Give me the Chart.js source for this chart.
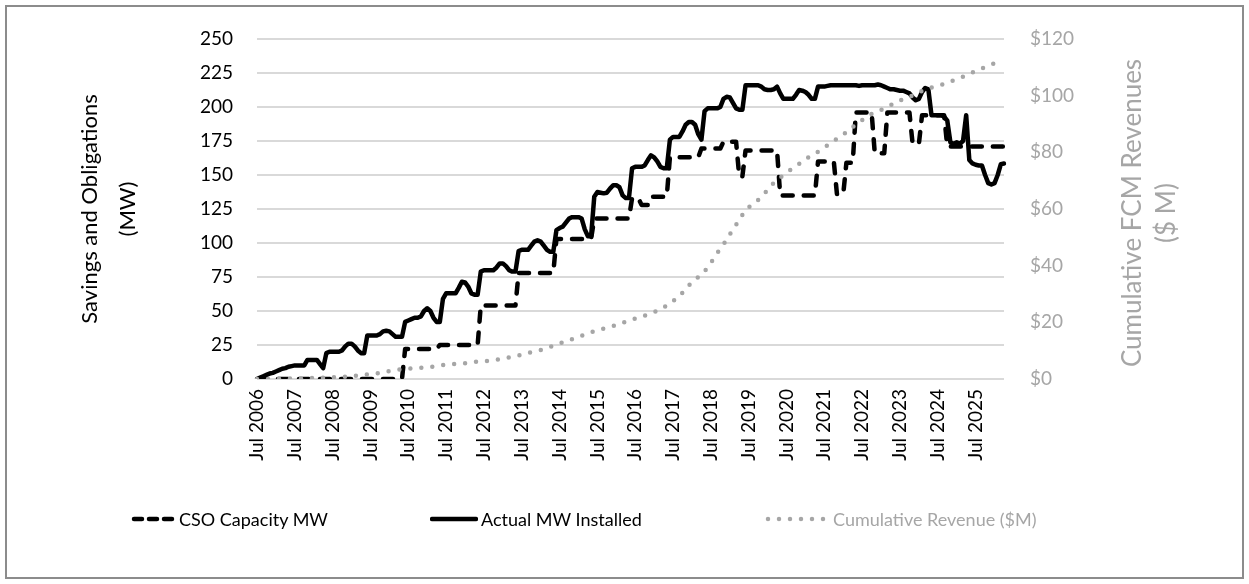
<!DOCTYPE html>
<html><head><meta charset="utf-8">
<script src="https://cdn.jsdelivr.net/npm/chart.js@4.4.1/dist/chart.umd.min.js"></script>
<style>
html,body{margin:0;padding:0;background:#fff;}
#wrap{position:relative;width:1249px;height:584px;overflow:hidden;font-family:Lato,'Open Sans',sans-serif;}
#frame{position:absolute;left:5px;top:5px;width:1235px;height:570px;border:2px solid #8c8c8c;pointer-events:none;}
canvas{position:absolute;left:0;top:0;}
.leg{position:absolute;top:507px;height:24px;display:flex;align-items:center;font-size:18px;white-space:nowrap;}
.leg svg{margin-right:3px;}
</style></head><body>
<div id="wrap">
<canvas id="c" width="1249" height="584"></canvas>
<div class="leg" style="left:130px;color:#000"><svg width="46" height="10"><line x1="4" y1="5" x2="42" y2="5" stroke="#000" stroke-width="4.5" stroke-dasharray="8 7" stroke-linecap="round"/></svg><span>CSO Capacity MW</span></div>
<div class="leg" style="left:430px;color:#000"><svg width="48" height="10"><line x1="2" y1="5" x2="46" y2="5" stroke="#000" stroke-width="4.5" stroke-linecap="round"/></svg><span>Actual MW Installed</span></div>
<div class="leg" style="left:764px;color:#a6a6a6"><svg width="66" height="10"><line x1="4" y1="5" x2="62" y2="5" stroke="#a6a6a6" stroke-width="4.5" stroke-dasharray="0 11" stroke-linecap="round"/></svg><span>Cumulative Revenue ($M)</span></div>
<div id="frame"></div>
</div>
<script>
// ---- data ----
const startYear = 2006, startMonth = 6; // Jul 2006 (0-based month)
const monthNames = ['Jan','Feb','Mar','Apr','May','Jun','Jul','Aug','Sep','Oct','Nov','Dec'];
const categories = [];
for (let i = 0; i < 238; i++) {
  const m = (startMonth + i) % 12, y = startYear + Math.floor((startMonth + i) / 12);
  categories.push(monthNames[m] + ' ' + y);
}
const tickLabels = ['Jul 2006','Jul 2007','Jul 2008','Jul 2009','Jul 2010','Jul 2011','Jul 2012','Jul 2013','Jul 2014','Jul 2015','Jul 2016','Jul 2017','Jul 2018','Jul 2019','Jul 2020','Jul 2021','Jul 2022','Jul 2023','Jul 2024','Jul 2025'];

const csoCapacityMW = [
  0,0,0,0,0,0,0,0,0,0,0,0,
  0,0,0,0,0,0,0,0,0,0,0,0,
  0,0,0,0,0,0,0,0,0,0,0,0,
  0,0,0,0,0,0,0,0,0,0,0,22,
  22,22,22,22,22,22,22,22,22,22,25,25,
  25,25,25,25,25,25,25,25,25,25,25,54,
  54,54,54,54,54,54,54,54,54,54,54,78,
  78,78,78,78,78,78,78,78,78,78,78,103,
  103,103,103,103,103,103,103,103,103,103,103,118,
  118,118,118,118,118,118,118,118,118,118,118,133,
  133,133,128,128,128,134,134,134,134,134,134,163,
  163,163,163,163,163,163,163,163,163,169.5,169.5,169.5,
  169.5,169.5,169.5,169.5,174.5,174.5,174.5,174.5,174.5,149,149,168,
  168,168,168,168,168,168,168,168,168,168,135,135,
  135,135,135,135,135,135,135,135,135,135,160,160,
  160,160,160,160,136,136,136,159,159,159,196,196,
  196,196,196,196,166,166,166,166,196,196,196,196,
  196,196,196,196,173,173,173,194,194,194,194,194,
  194,194,194,171,171,171,171,171,171,171,171,171,
  171,171,171,171,171,171,171,171,171,171
];
const actualMWInstalled = [
  0,1,2,3,4,4.5,5.5,6.5,7.5,8,9,9.5,
  10,10,10,10,14,14,14,14,11,8,19,20,
  20,20,20,21,24,26,26,24,21,19,19,32,
  32,32,32,33,35,35.5,35,33,31,31,31,42,
  43,44,45,45,46,50,52,50,45,42,42,59,
  63,63,63,63,67,71.5,71,68,63,62,62,79,
  80,80,80,80,82,85,85,83,80,79,79,94,
  95,95,95,98,101,102,101,98,95,93.5,93.5,109.5,
  111,112,115,118,119,119,119,118,110,105,105,134,
  137.5,137,136.5,137,140,142.5,142.5,141,135,133,133,155,
  156,156,156,157,161,164.5,163,160,156,155,155,176,
  178,178,178,182,187,189,189,187,180,176,197,199,
  199,199,199,200,206,207.5,207,203,199,198,198,216,
  216,216,216,216,215,213,212.5,212.5,213,215,210,206,
  206,206,206,209,212.5,212,211,209,206,206,215,215,
  215,215.5,216,216,216,216,216,216,216,216,216,215.5,
  216,216,216,216,216,216.5,216,215,214,213,213,212.5,
  212,212,211,210,207,205,206,211,214,213,194,194,
  194,194,193,190,174,173,174,173,175,194,161,158.5,
  157.5,157,157,150,144,143,144,150,158,158.5
];
const cumulativeRevenueM = [
  0,0,0,0,0.05,0.05,0.1,0.1,0.1,0.15,0.15,0.2,
  0.2,0.2,0.2,0.25,0.3,0.3,0.35,0.4,0.4,0.45,0.5,0.55,
  0.6,0.65,0.7,0.75,0.8,0.9,1.0,1.1,1.2,1.4,1.5,1.6,
  1.8,1.9,2.0,2.2,2.4,2.6,2.8,3.0,3.2,3.3,3.4,3.5,
  3.6,3.7,3.8,3.9,4.0,4.1,4.2,4.3,4.4,4.6,4.8,4.9,
  5.0,5.1,5.2,5.3,5.4,5.5,5.6,5.7,5.9,6.0,6.1,6.2,
  6.3,6.4,6.5,6.6,6.8,7.0,7.2,7.4,7.6,7.8,8.0,8.3,
  8.6,8.9,9.2,9.5,9.8,10.0,10.2,10.5,10.9,11.3,11.7,12.1,
  12.5,12.9,13.3,13.7,14.1,14.5,14.9,15.3,15.7,16.1,16.5,16.9,
  17.2,17.5,17.8,18.1,18.4,18.7,19.0,19.4,19.8,20.2,20.6,21.0,
  21.3,21.6,22.0,22.4,22.8,23.2,23.6,24.1,24.6,25.2,26.0,26.8,
  27.6,28.3,29.0,30.5,32.0,33.0,34.0,35.0,36.0,37.0,38.0,39.5,
  41.0,42.7,44.4,46.0,47.5,49.2,51.0,52.7,54.4,56.2,57.9,59.3,
  60.6,61.5,62.4,63.2,64.4,65.5,66.7,68.0,69.3,70.2,71.1,72.0,
  72.8,73.6,74.3,75.1,75.9,76.7,77.5,78.3,79.0,79.6,80.2,80.8,
  81.6,82.5,83.3,84.0,84.8,85.5,86.3,87.1,87.9,88.9,90.0,90.7,
  91.4,92.0,92.8,93.6,94.0,94.4,95.0,95.5,96.0,96.6,97.3,97.9,
  98.3,98.8,99.2,99.6,100.1,100.7,101.2,101.7,102.1,102.6,102.9,103.2,
  103.5,103.8,104.2,104.6,105.0,105.4,105.8,106.3,106.7,107.2,107.7,108.2,
  108.7,109.1,109.6,110.1,110.5,111.0,111.4,111.8,null,null
];
const leftAxisTitle = ['Savings and Obligations', '(MW)'];
const rightAxisTitle = ['Cumulative FCM Revenues', '($ M)'];

// ---- layout constants ----
const PLOT_L = 257, PLOT_R = 1004, PLOT_T = 39, PLOT_B = 379;
const PAD_L = 71, PAD_R = 10;
const FONT = 'Lato';
const GREY = '#a6a6a6';

const rightTitlePlugin = {
  id: 'rightTitle',
  afterDraw(chart) {
    const ctx = chart.ctx;
    ctx.save();
    ctx.fillStyle = GREY;
    ctx.font = '26px ' + FONT;
    ctx.textAlign = 'center';
    ctx.textBaseline = 'middle';
    const xs = [1133, 1167];
    rightAxisTitle.forEach((t, k) => {
      ctx.save();
      ctx.translate(xs[k], 213);
      ctx.rotate(-Math.PI / 2);
      ctx.fillText(t, 0, 0);
      ctx.restore();
    });
    ctx.restore();
  }
};

new Chart(document.getElementById('c'), {
  type: 'line',
  data: {
    labels: categories,
    datasets: [
      { label: 'CSO Capacity MW', data: csoCapacityMW, yAxisID: 'y', borderColor: '#000', borderWidth: 4.5,
        borderDash: [10, 11], borderCapStyle: 'round', borderJoinStyle: 'round', pointRadius: 0, tension: 0, order: 3 },
      { label: 'Actual MW Installed', data: actualMWInstalled, yAxisID: 'y', borderColor: '#000', borderWidth: 4.5,
        borderCapStyle: 'round', borderJoinStyle: 'round', pointRadius: 0, tension: 0, order: 2 },
      { label: 'Cumulative Revenue ($M)', data: cumulativeRevenueM, yAxisID: 'y1', borderColor: GREY, borderWidth: 4.5,
        borderDash: [0, 11], borderCapStyle: 'round', pointRadius: 0, tension: 0, order: 1 }
    ]
  },
  options: {
    responsive: false,
    animation: false,
    devicePixelRatio: 1,
    layout: { padding: { left: PAD_L, right: PAD_R, top: PLOT_T, bottom: 0 } },
    plugins: { legend: { display: false }, tooltip: { enabled: false } },
    scales: {
      x: {
        type: 'category', offset: false,
        grid: { display: false, drawTicks: false }, border: { display: false },
        ticks: {
          autoSkip: false, minRotation: 90, maxRotation: 90, padding: 10, color: '#000',
          font: { family: FONT, size: 19 },
          callback(v) { const c = categories[v]; return tickLabels.includes(c) ? c : null; }
        },
        afterFit(s) { s.height = 584 - PLOT_B; }
      },
      y: {
        position: 'left', min: 0, max: 250,
        ticks: { stepSize: 25, padding: 24, color: '#000', font: { family: FONT, size: 19 } },
        grid: { color: '#d9d9d9', lineWidth: 2, drawTicks: false }, border: { display: false },
        title: { display: true, text: leftAxisTitle, color: '#000', font: { family: FONT, size: 22, lineHeight: 1.73 }, padding: { top: 0, bottom: 0 } },
        afterFit(s) { s.width = PLOT_L - PAD_L; }
      },
      y1: {
        position: 'right', min: 0, max: 120,
        ticks: { stepSize: 20, padding: 26, color: GREY, font: { family: FONT, size: 19 }, callback: v => '$' + v },
        grid: { display: false, drawTicks: false }, border: { display: false },
        afterFit(s) { s.width = 1249 - PAD_R - PLOT_R; }
      }
    }
  },
  plugins: [rightTitlePlugin]
});
</script>
</body></html>
